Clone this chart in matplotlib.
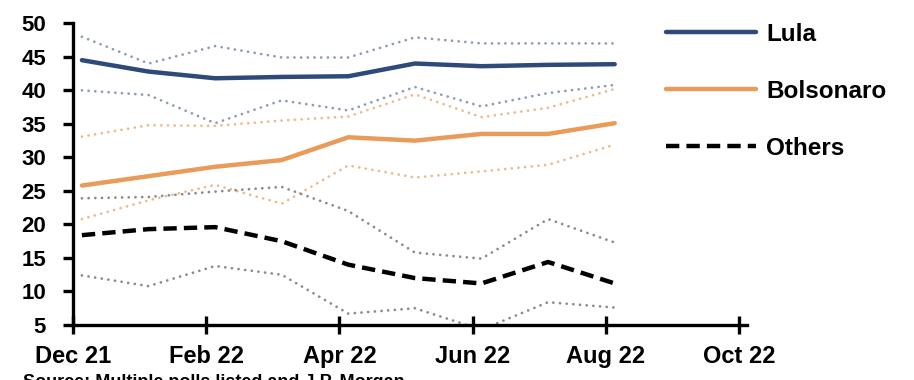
import numpy as np
import pandas as pd
import matplotlib
matplotlib.use("Agg")
import matplotlib.pyplot as plt

plt.rcParams['font.family'] = ['Liberation Sans Narrow', 'Liberation Sans', 'DejaVu Sans']
plt.rcParams['font.weight'] = 'bold'

# poll dates (roughly the first week of each month)
dates = ['2021-12-05', '2022-01-05', '2022-02-05', '2022-03-05', '2022-04-05',
         '2022-05-05', '2022-06-05', '2022-07-05', '2022-08-05']

lula = [44.5, 42.8, 41.8, 42.0, 42.1, 44.0, 43.6, 43.8, 43.9]
lula_hi = [48.0, 44.0, 46.6, 44.9, 44.9, 47.9, 47.0, 47.0, 47.0]
lula_lo = [40.0, 39.3, 35.1, 38.5, 37.0, 40.5, 37.6, 39.6, 40.8]

bolsonaro = [25.8, 27.2, 28.6, 29.6, 33.0, 32.5, 33.5, 33.5, 35.1]
bolso_hi = [33.1, 34.8, 34.7, 35.5, 36.1, 39.4, 36.0, 37.4, 40.2]
bolso_lo = [20.8, 23.6, 25.9, 23.1, 28.8, 27.0, 27.9, 28.9, 31.9]

others = [18.4, 19.3, 19.6, 17.5, 14.0, 12.0, 11.2, 14.4, 11.2]
others_hi = [23.9, 24.1, 24.9, 25.6, 22.0, 15.8, 14.9, 20.8, 17.3]
others_lo = [12.4, 10.8, 13.8, 12.5, 6.7, 7.5, 4.3, 8.4, 7.6]

tick_labels = ['Dec 21', 'Feb 22', 'Apr 22', 'Jun 22', 'Aug 22', 'Oct 22']
tick_pos = [0, 2, 4, 6, 8, 10]

# month index, Dec 21 = 0
d = pd.to_datetime(dates)
x = (d.year - 2021) * 12 + d.month - 12 + (d.day - 1) / 30.0

navy = '#2d4a7b'
navy_l = '#8d9bb8'
orange = '#e99b59'
orange_l = '#f0b88a'
grey_l = '#8a8a8a'

dot = (0, (0.01, 2.4))

fig = plt.figure(figsize=(9.14, 3.8), dpi=100)
ax = fig.add_axes([0.0799, 0.1447, 0.7374, 0.794])

kw = dict(lw=2.0, ls=dot, dash_capstyle='round')
ax.plot(x, lula_hi, color=navy_l, **kw)
ax.plot(x, lula_lo, color=navy_l, **kw)
ax.plot(x, bolso_hi, color=orange_l, **kw)
ax.plot(x, bolso_lo, color=orange_l, **kw)
ax.plot(x, others_hi, color=grey_l, **kw)
ax.plot(x, others_lo, color=grey_l, **kw)

l1, = ax.plot(x, lula, color=navy, lw=3.2, solid_capstyle='round', label='Lula')
l2, = ax.plot(x, bolsonaro, color=orange, lw=3.2, solid_capstyle='round', label='Bolsonaro')
l3, = ax.plot(x, others, color='black', lw=3.2, ls=(0, (3.0, 1.6)), label='Others')

ax.set_xlim(0, 10.12)
ax.set_ylim(5, 50)
ax.set_yticks(range(5, 51, 5))
ax.set_xticks(tick_pos)
ax.set_xticklabels(tick_labels)

for s in ['top', 'right']:
    ax.spines[s].set_visible(False)
for s in ['left', 'bottom']:
    ax.spines[s].set_linewidth(2.4)

ax.tick_params(axis='x', direction='inout', length=13, width=2.4, pad=8, labelsize=17)
ax.tick_params(axis='y', direction='out', length=7.5, width=2.4, pad=12, labelsize=16)

fig.legend(handles=[l1, l2, l3], loc='center left', bbox_to_anchor=(0.729, 0.76),
           frameon=False, fontsize=17.5, handlelength=3.7, handletextpad=0.4,
           labelspacing=1.4, borderpad=0, borderaxespad=0)

fig.text(0.025, -0.028, 'Source: Multiple polls listed and J.P. Morgan', fontsize=13, va='bottom')

fig.savefig('out.png', dpi=100)
